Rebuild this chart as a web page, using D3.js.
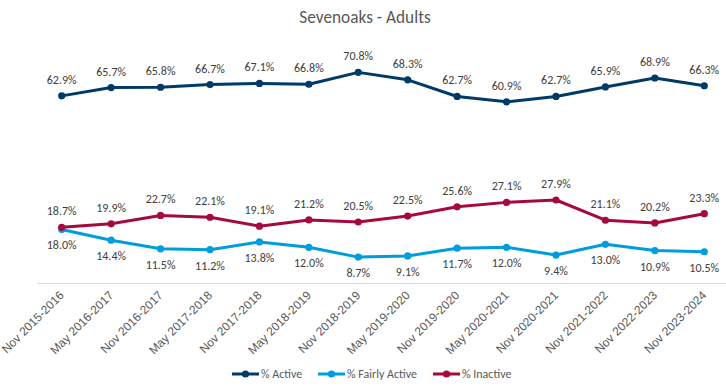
<!DOCTYPE html>
<html><head><meta charset="utf-8">
<script src="https://cdn.jsdelivr.net/npm/d3@7"></script>
<style>body{margin:0;background:#fff}svg{display:block;font-family:Calibri,Carlito,"Open Sans",sans-serif}</style>
</head><body><svg id="c" width="726" height="391"></svg>
<script>
const categories = ["Nov 2015-2016","May 2016-2017","Nov 2016-2017","May 2017-2018","Nov 2017-2018","May 2018-2019","Nov 2018-2019","May 2019-2020","Nov 2019-2020","May 2020-2021","Nov 2020-2021","Nov 2021-2022","Nov 2022-2023","Nov 2023-2024"];
const active = [62.9,65.7,65.8,66.7,67.1,66.8,70.8,68.3,62.7,60.9,62.7,65.9,68.9,66.3];
const fairlyActive = [18.0,14.4,11.5,11.2,13.8,12.0,8.7,9.1,11.7,12.0,9.4,13.0,10.9,10.5];
const inactive = [18.7,19.9,22.7,22.1,19.1,21.2,20.5,22.5,25.6,27.1,27.9,21.1,20.2,23.3];
const seriesNames = ["% Active","% Fairly Active","% Inactive"];
const colors = ["#003a66","#009ddc","#a6093d"];

const svg = d3.select("#c");
const margin = {left:37, right:-3, top:45, bottom:108};
const W = 726, H = 391;
const x = d3.scaleBand().domain(categories).range([margin.left, W - margin.right]);
const y = d3.scaleLinear().domain([0,80]).range([H - margin.bottom, margin.top]);
const cx = c => x(c) + x.bandwidth()/2;

svg.append("text").attr("x",365).attr("y",23).attr("text-anchor","middle")
  .attr("font-size",17.3).attr("fill","#595959").text("Sevenoaks - Adults");

const ax = svg.append("g").attr("transform",`translate(0,${y(0)})`)
  .call(d3.axisBottom(x).tickSize(0).tickPadding(0));
ax.select(".domain").attr("stroke","#d9d9d9");
ax.selectAll("text").attr("font-size",12).attr("fill","#595959")
  .attr("text-anchor","end").attr("dy",0).attr("x",0).attr("y",0)
  .attr("transform","translate(3,13) rotate(-45)");

const data = [active, fairlyActive, inactive];
const line = d3.line().x((d,i)=>cx(categories[i])).y(d=>y(d));
data.forEach((vals,k)=>{
  const g = svg.append("g");
  g.append("path").datum(vals).attr("d",line).attr("fill","none")
    .attr("stroke",colors[k]).attr("stroke-width",3).attr("stroke-linejoin","round");
  g.selectAll("circle").data(vals).join("circle")
    .attr("cx",(d,i)=>cx(categories[i])).attr("cy",d=>y(d)).attr("r",3.6).attr("fill",colors[k]);
  g.selectAll("text").data(vals).join("text")
    .attr("x",(d,i)=>cx(categories[i])).attr("y",d=>y(d) + (k===1?20:-12))
    .attr("text-anchor","middle").attr("font-size",12).attr("fill","#404040")
    .text(d=>d.toFixed(1)+"%");
});

const legX = [232, 318, 433];
const lg = svg.append("g");
seriesNames.forEach((n,k)=>{
  lg.append("line").attr("x1",legX[k]).attr("x2",legX[k]+27).attr("y1",374).attr("y2",374)
    .attr("stroke",colors[k]).attr("stroke-width",3);
  lg.append("circle").attr("cx",legX[k]+13.5).attr("cy",374).attr("r",3.6).attr("fill",colors[k]);
  lg.append("text").attr("x",legX[k]+29).attr("y",378).attr("font-size",12).attr("fill","#595959").text(n);
});
</script></body></html>
